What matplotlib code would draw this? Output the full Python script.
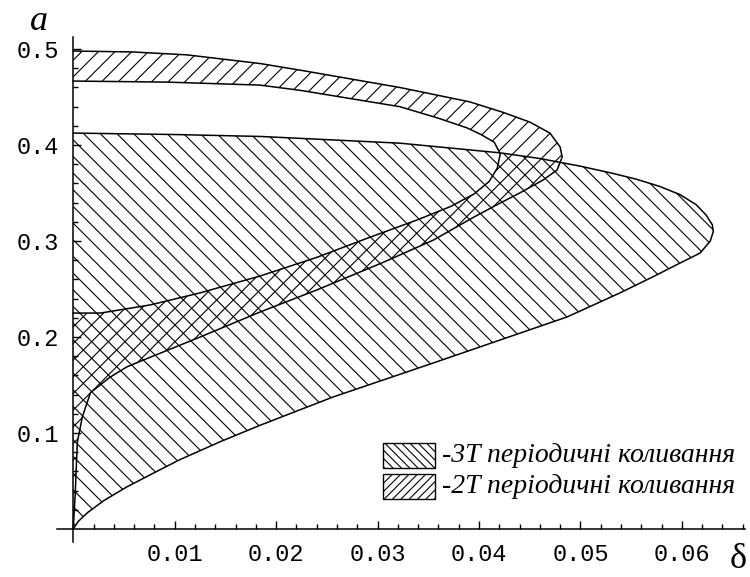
import matplotlib.pyplot as plt
from matplotlib.patches import Rectangle

# 3T region: lower branch from origin to the tip, then upper branch back to delta = 0
t3_x = [0, 0.0005, 0.0014, 0.003, 0.0053, 0.0086, 0.0105, 0.0145, 0.0184, 0.0256, 0.0355,
        0.0421, 0.0487, 0.0539, 0.0571, 0.0598, 0.0618, 0.0628, 0.0631,
        0.063, 0.0624, 0.0614, 0.0598, 0.0578, 0.0555, 0.053, 0.050, 0.046, 0.042,
        0.0322, 0.0224, 0.0184, 0.01, 0]
t3_y = [0, 0.008, 0.017, 0.0295, 0.044, 0.062, 0.0722, 0.091, 0.108, 0.1375, 0.173,
        0.197, 0.221, 0.246, 0.2625, 0.277, 0.2875, 0.300, 0.310,
        0.317, 0.327, 0.338, 0.3485, 0.357, 0.3645, 0.371, 0.378, 0.386, 0.392,
        0.402, 0.407, 0.409, 0.411, 0.4125]

# 2T band: outer edge from the top of the a-axis round the tip down to the origin
t2_outer_x = [0, 0.0059, 0.0112, 0.0184, 0.0224, 0.0322, 0.0391, 0.0424, 0.045, 0.047,
              0.048, 0.0482, 0.0477, 0.0463, 0.044, 0.0418, 0.0395, 0.0375, 0.0355,
              0.0306, 0.024, 0.0184, 0.0125, 0.0076, 0.0053, 0.0036, 0.0017, 0.0009,
              0.0004, 0.0002, 0]
t2_outer_y = [0.498, 0.497, 0.494, 0.485, 0.478, 0.460, 0.445, 0.434, 0.424, 0.4125,
              0.398, 0.3875, 0.374, 0.3635, 0.350, 0.338, 0.325, 0.313, 0.301,
              0.278, 0.249, 0.226, 0.200, 0.179, 0.169, 0.158, 0.142, 0.117,
              0.090, 0.0375, 0]
# inner edge from a = 0.225 round the inner tip up to a = 0.467
t2_inner_x = [0, 0.0027, 0.0076, 0.0125, 0.0184, 0.024, 0.029, 0.0339, 0.0372, 0.0395,
              0.041, 0.0418, 0.0421, 0.0415, 0.0402, 0.0388, 0.036, 0.0322, 0.0224,
              0.0184, 0.0093, 0]
t2_inner_y = [0.225, 0.225, 0.2335, 0.246, 0.2635, 0.283, 0.303, 0.322, 0.336, 0.349,
              0.362, 0.376, 0.391, 0.403, 0.411, 0.418, 0.428, 0.440, 0.457,
              0.4625, 0.4656, 0.4667]

x_ticks = [0.01, 0.02, 0.03, 0.04, 0.05, 0.06]
y_ticks = [0.1, 0.2, 0.3, 0.4, 0.5]
legend_labels = ["-3T періодичні коливання", "-2T періодичні коливання"]
legend_hatches = ["\\\\\\\\", "////"]

plt.rcParams['hatch.linewidth'] = 0.8

fig = plt.figure(figsize=(7.5, 5.77), dpi=100)
ax = fig.add_axes([0.076, 0.0607, 0.917, 0.875])
ax.set_xlim(-0.0016, 0.0662)
ax.set_ylim(-0.0135, 0.5125)

ax.fill(t3_x, t3_y, facecolor="none", edgecolor="black", linewidth=0, hatch="\\\\")
ax.fill(t2_outer_x + t2_inner_x, t2_outer_y + t2_inner_y,
        facecolor="none", edgecolor="black", linewidth=0, hatch="//")
ax.plot(t3_x, t3_y, color="black", lw=1.1)
ax.plot(t2_outer_x, t2_outer_y, color="black", lw=1.1)
ax.plot(t2_inner_x, t2_inner_y, color="black", lw=1.1)

# axes through the origin, Mathematica style
for s in ["top", "right"]:
    ax.spines[s].set_visible(False)
ax.spines["left"].set_position(("data", 0))
ax.spines["bottom"].set_position(("data", 0))
ax.spines["left"].set_linewidth(1.1)
ax.spines["bottom"].set_linewidth(1.1)

ax.set_xticks(x_ticks)
ax.set_xticklabels([f"{v:g}" for v in x_ticks])
ax.set_xticks([i * 0.002 for i in range(1, 34)], minor=True)
ax.set_yticks(y_ticks)
ax.set_yticklabels([f"{v:g}" for v in y_ticks])
ax.set_yticks([i * 0.02 for i in range(1, 26)], minor=True)
ax.tick_params(which="major", direction="in", length=6, width=1, pad=10)
ax.tick_params(which="minor", direction="in", length=3.5, width=1)
for lab in ax.get_xticklabels() + ax.get_yticklabels():
    lab.set_fontfamily("Liberation Mono")
    lab.set_fontsize(17)

fig.text(0.052, 0.962, "a", family="Liberation Serif", style="italic", fontsize=26,
         ha="center", va="center")
fig.text(0.984, 0.03, "δ", family="Liberation Serif", fontsize=26,
         ha="center", va="center")

# legend drawn by hand
for i, (lab, h) in enumerate(zip(legend_labels, legend_hatches)):
    y0 = 0.1889 - i * 0.0537
    fig.add_artist(Rectangle((0.5107, y0), 0.0693, 0.0433, transform=fig.transFigure,
                             facecolor="white", edgecolor="black", lw=1, hatch=h))
    fig.text(0.589, y0 + 0.0216, lab, family="Liberation Serif", style="italic",
             fontsize=20, ha="left", va="center")

fig.savefig("out.png", dpi=100)
